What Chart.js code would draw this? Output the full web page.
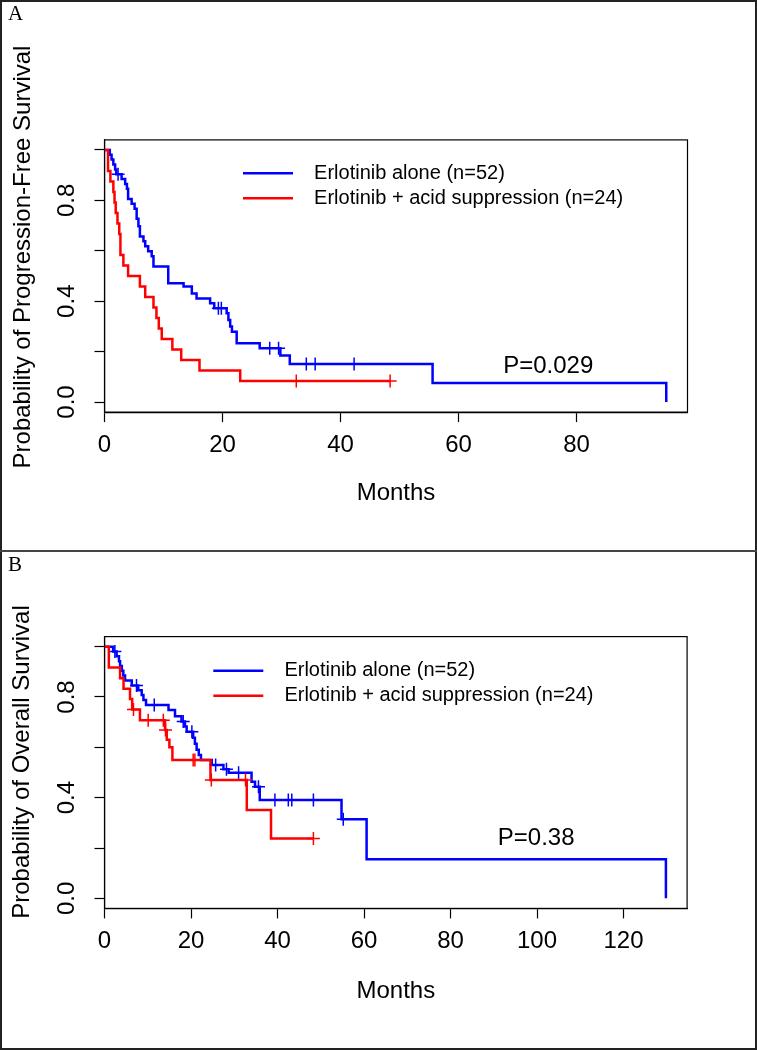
<!DOCTYPE html>
<html>
<head>
<meta charset="utf-8">
<script src="https://cdn.jsdelivr.net/npm/chart.js@4.4.1/dist/chart.umd.min.js"></script>
<style>
  body { margin: 0; background: #fff; }
  #page { position: relative; width: 757px; height: 1050px; }
  canvas { position: absolute; left: 0; }
  #chartA { top: 0; }
  #chartB { top: 551px; }
  .frame { position: absolute; left: 0; top: 0; width: 757px; height: 1050px; box-sizing: border-box; border: 2px solid #222; pointer-events: none; }
  .divider { position: absolute; left: 0; top: 550px; width: 757px; height: 1.5px; background: #444; }
  .tag { position: absolute; left: 8px; font: 21px 'Liberation Serif', 'Times New Roman', serif; line-height: 21px; }
</style>
</head>
<body>
<div id="page">
  <canvas id="chartA" width="757" height="551"></canvas>
  <canvas id="chartB" width="757" height="499"></canvas>
  <div class="frame"></div>
  <div class="divider"></div>
  <div class="tag" style="top:3px">A</div>
  <div class="tag" style="top:554px">B</div>
</div>
<script>
// groups
const groupLabels = ['Erlotinib alone (n=52)', 'Erlotinib + acid suppression (n=24)'];
const groupColors = ['#0000ff', '#ff0000'];

// A: progression-free survival (months, survival probability)
const pfsAloneT = [0, 0.9, 1.2, 1.5, 1.8, 2.0, 2.9, 3.5, 3.8, 4.0, 4.6, 5.1, 5.45, 5.75, 6.0, 6.6, 6.9, 7.4, 8.0, 8.3, 10.8, 13.4, 14.8, 15.6, 17.9, 18.6, 20.7, 21.0, 21.3, 21.6, 22.4, 26.3, 29.8, 31.4, 55.6, 95.2];
const pfsAloneS = [1, 0.981, 0.962, 0.942, 0.923, 0.904, 0.885, 0.865, 0.846, 0.806, 0.787, 0.767, 0.727, 0.697, 0.657, 0.638, 0.618, 0.598, 0.578, 0.538, 0.471, 0.458, 0.431, 0.411, 0.392, 0.372, 0.352, 0.325, 0.300, 0.279, 0.233, 0.213, 0.185, 0.151, 0.075, 0];
const pfsAloneCensT = [2.3, 19.3, 19.8, 28.0, 29.5, 34.2, 35.7, 42.3];
const pfsAloneCensS = [0.904, 0.372, 0.372, 0.213, 0.213, 0.151, 0.151, 0.151];
const pfsAcidT = [0, 0.6, 1.0, 1.5, 1.7, 1.9, 2.2, 2.5, 2.7, 3.2, 4.0, 6.0, 6.9, 8.3, 8.8, 9.2, 9.7, 11.5, 13.0, 16.1, 23.0, 48.4];
const pfsAcidS = [1, 0.917, 0.875, 0.833, 0.792, 0.75, 0.708, 0.667, 0.583, 0.542, 0.5, 0.458, 0.417, 0.375, 0.333, 0.292, 0.25, 0.208, 0.167, 0.125, 0.083, 0.083];
const pfsAcidCensT = [32.5, 48.4];
const pfsAcidCensS = [0.083, 0.083];

// B: overall survival
const osAloneT = [0, 2.0, 2.8, 3.35, 3.6, 4.0, 4.35, 4.75, 6.3, 7.8, 8.6, 9.0, 9.6, 14.8, 16.3, 17.8, 18.6, 19.0, 20.5, 20.9, 21.3, 21.8, 22.3, 24.8, 27.5, 28.7, 34.0, 34.8, 35.9, 54.8, 60.6, 129.8];
const osAloneS = [1, 0.981, 0.962, 0.942, 0.923, 0.904, 0.885, 0.866, 0.846, 0.827, 0.808, 0.788, 0.768, 0.748, 0.724, 0.703, 0.683, 0.662, 0.638, 0.614, 0.590, 0.570, 0.550, 0.530, 0.513, 0.499, 0.463, 0.443, 0.391, 0.314, 0.155, 0];
const osAloneCensT = [2.4, 7.4, 11.5, 18.2, 20.2, 25.7, 28.2, 31.0, 35.6, 39.4, 42.5, 43.3, 48.3, 55.2];
const osAloneCensS = [0.981, 0.846, 0.768, 0.703, 0.662, 0.530, 0.513, 0.499, 0.443, 0.391, 0.391, 0.391, 0.391, 0.314];
const osAcidT = [0, 1.0, 3.6, 4.4, 5.9, 6.4, 8.2, 14.0, 14.4, 15.0, 15.7, 24.5, 32.9, 38.5, 48.3];
const osAcidS = [1, 0.917, 0.875, 0.833, 0.792, 0.75, 0.708, 0.669, 0.63, 0.60, 0.55, 0.47, 0.351, 0.238, 0.238];
const osAcidCensT = [6.7, 10.1, 13.6, 14.1, 20.5, 20.9, 24.7, 32.6, 48.3];
const osAcidCensS = [0.75, 0.708, 0.708, 0.669, 0.55, 0.55, 0.47, 0.47, 0.238];

// axes
const yTicks = [0, 0.2, 0.4, 0.6, 0.8, 1.0];
const yTickLabels = ['0.0', '', '0.4', '', '0.8', ''];
const xTicksA = [0, 20, 40, 60, 80];
const xTicksB = [0, 20, 40, 60, 80, 100, 120];

Chart.defaults.font.family = "'Liberation Sans', Arial, Helvetica, sans-serif";
Chart.defaults.color = '#000';

const pts = (t, s) => t.map((v, i) => ({ x: v, y: s[i] }));

// moves the legend to a fixed spot inside the plot
const placeLegend = {
    id: 'placeLegend',
    afterLayout(chart, args, opts) {
        const lg = chart.legend;
        lg.left = opts.x; lg.top = opts.y;
        lg.right = opts.x + lg.width; lg.bottom = opts.y + lg.height;
    }
};

// box round the plot, the p-value and the y title (set a bit above centre, as in R output)
const boxAndP = {
    id: 'boxAndP',
    beforeDatasetsDraw(chart) {
        const { ctx, chartArea: a } = chart;
        ctx.save();
        ctx.strokeStyle = '#000';
        ctx.lineWidth = 1.2;
        ctx.strokeRect(a.left, a.top, a.right - a.left, a.bottom - a.top);
        ctx.restore();
    },
    afterDatasetsDraw(chart, args, opts) {
        const ctx = chart.ctx;
        ctx.save();
        ctx.font = "24px 'Liberation Sans', Arial, sans-serif";
        ctx.fillStyle = '#000';
        ctx.textAlign = 'center';
        ctx.textBaseline = 'middle';
        ctx.fillText(opts.text, chart.scales.x.getPixelForValue(opts.at[0]), chart.scales.y.getPixelForValue(opts.at[1]));
        ctx.translate(opts.yTitleAt[0], opts.yTitleAt[1]);
        ctx.rotate(-Math.PI / 2);
        ctx.fillText(opts.yTitle, 0, 0);
        ctx.restore();
    }
};

function kmChart(id, p) {
    const curve = (t, s, i) => ({
        label: groupLabels[i], data: pts(t, s), borderColor: groupColors[i],
        borderWidth: 2.5, pointRadius: 0, stepped: true, fill: false, order: i === 0 ? 1 : 0
    });
    const cens = (t, s, i) => ({
        label: 'censored', data: pts(t, s), showLine: false, borderColor: groupColors[i],
        backgroundColor: groupColors[i], pointStyle: 'cross', pointRadius: 6.5,
        pointBorderWidth: 1.5, order: i === 0 ? 1 : 0
    });
    const axisLine = { display: true, color: '#000', width: 1.2 };
    const tickMarks = { drawOnChartArea: false, drawTicks: true, tickLength: 10, tickColor: '#000', tickWidth: 1.2 };

    return new Chart(id, {
        type: 'line',
        data: {
            datasets: [
                curve(p.alone[0], p.alone[1], 0),
                cens(p.aloneCens[0], p.aloneCens[1], 0),
                curve(p.acid[0], p.acid[1], 1),
                cens(p.acidCens[0], p.acidCens[1], 1)
            ]
        },
        options: {
            responsive: false,
            animation: false,
            events: [],
            layout: { padding: p.pad },
            scales: {
                x: {
                    type: 'linear', min: 0, max: p.xMax,
                    afterBuildTicks: s => { s.ticks = p.xTicks.map(v => ({ value: v })); },
                    afterFit: s => { s.height = 110; },
                    ticks: { font: { size: 24 }, color: '#000', padding: 9, maxRotation: 0, autoSkip: false, callback: v => String(v) },
                    grid: tickMarks,
                    border: axisLine,
                    title: { display: true, text: 'Months', font: { size: 24 }, color: '#000', padding: { top: 0, bottom: p.xTitlePad } }
                },
                y: {
                    type: 'linear', min: -0.04, max: 1.04,
                    afterBuildTicks: s => { s.ticks = yTicks.map(v => ({ value: v })); },
                    afterFit: s => { s.width = 104.5; },
                    ticks: { font: { size: 24 }, color: '#000', padding: 10, minRotation: 90, maxRotation: 90, crossAlign: 'center', autoSkip: false, callback: (v, i) => yTickLabels[i] },
                    grid: tickMarks,
                    border: axisLine,
                    title: { display: false }
                }
            },
            plugins: {
                legend: {
                    position: 'chartArea',
                    align: 'start',
                    labels: {
                        usePointStyle: true, pointStyleWidth: 50, padding: 5,
                        font: { size: 20 }, color: '#000',
                        generateLabels: () => groupLabels.map((text, i) => ({
                            text: '  ' + text, strokeStyle: groupColors[i], fillStyle: groupColors[i],
                            lineWidth: 2.5, pointStyle: 'line', fontColor: '#000', hidden: false, datasetIndex: i * 2
                        }))
                    }
                },
                tooltip: { enabled: false },
                placeLegend: p.legendAt,
                boxAndP: { text: p.pText, at: p.pAt, yTitle: p.yTitle, yTitleAt: p.yTitleAt }
            }
        },
        plugins: [placeLegend, boxAndP]
    });
}

kmChart('chartA', {
    alone: [pfsAloneT, pfsAloneS], aloneCens: [pfsAloneCensT, pfsAloneCensS],
    acid: [pfsAcidT, pfsAcidS], acidCens: [pfsAcidCensT, pfsAcidCensS],
    xMax: 98.8, xTicks: xTicksA,
    yTitle: 'Probability of Progression-Free Survival', yTitleAt: [23, 257],
    pad: { top: 139.9, left: 0, right: 69.5, bottom: 28.9 },
    xTitlePad: 14.8,
    legendAt: { x: 238, y: 158.3 },
    pText: 'P=0.029', pAt: [75.2, 0.14]
});

kmChart('chartB', {
    alone: [osAloneT, osAloneS], aloneCens: [osAloneCensT, osAloneCensS],
    acid: [osAcidT, osAcidS], acidCens: [osAcidCensT, osAcidCensS],
    xMax: 134.7, xTicks: xTicksB,
    yTitle: 'Probability of Overall Survival', yTitleAt: [22, 211],
    pad: { top: 85.6, left: 0, right: 69.9, bottom: 31.6 },
    xTitlePad: 13,
    legendAt: { x: 208.3, y: 104.7 },
    pText: 'P=0.38', pAt: [99.8, 0.24]
});
</script>
</body>
</html>
